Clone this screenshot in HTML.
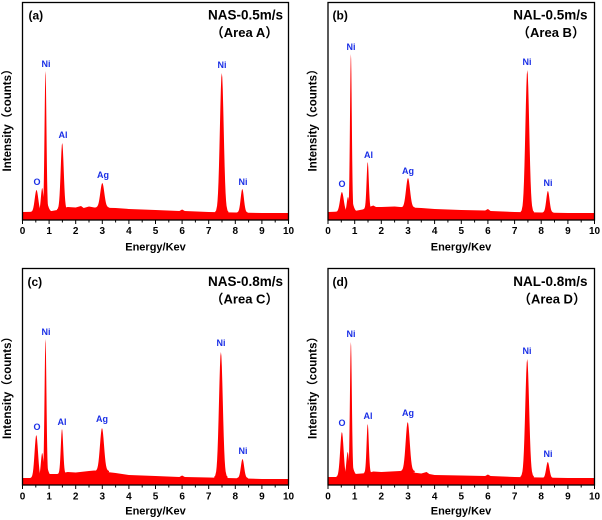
<!DOCTYPE html>
<html><head><meta charset="utf-8"><style>
html,body{margin:0;padding:0;background:#fff;}
svg{display:block;}
text{font-family:"Liberation Sans","Noto Sans CJK SC",sans-serif;font-weight:bold;}
.t{font-size:10px;fill:#000;text-anchor:middle;}
.xl{font-size:11px;fill:#000;text-anchor:middle;}
.yl{font-size:11.5px;fill:#000;text-anchor:middle;}
.el{font-size:9px;fill:#1a2fe6;text-anchor:middle;}
.pl{font-size:12px;fill:#000;}
.ti{font-size:13.5px;fill:#000;text-anchor:end;}
.ar{font-size:13px;fill:#000;text-anchor:middle;}
.r{fill:#ff0000;}
.fr{fill:none;stroke:#000;stroke-width:1.3;}
.tk{stroke:#000;stroke-width:1;fill:none;}
</style></head><body>
<svg width="602" height="520" viewBox="0 0 602 520" xmlns="http://www.w3.org/2000/svg">
<rect width="602" height="520" fill="#fff"/>

<!-- ================= Panel A ================= -->
<path class="r" d="M22.5,220 L22.5,212 L49.1,211.5 L57.1,210 L67.7,207 L75.7,207.5 L81,206 L83.7,208 L89,206.5 L94.3,207.5 L115.6,208 L128.9,209 L155.5,210 L179.4,211 L182.1,209.5 L184.8,211 L208.7,212 L261.9,213 L288.5,213 L288.5,220 Z"/>
<g class="r">
<path transform="translate(36.5,212) scale(1.75,22)" d="M-3.5,0.03L-3.5,-0.002L-3,-0.011L-2.5,-0.044L-2.25,-0.08L-2,-0.135L-1.75,-0.216L-1.5,-0.325L-1.25,-0.458L-1,-0.607L-0.75,-0.755L-0.5,-0.882L-0.25,-0.969L0,-1L0.25,-0.969L0.5,-0.882L0.75,-0.755L1,-0.607L1.25,-0.458L1.5,-0.325L1.75,-0.216L2,-0.135L2.25,-0.08L2.5,-0.044L3,-0.011L3.5,-0.002L3.5,0.03Z"/>
<path transform="translate(42.2,212) scale(1.3,24)" d="M-3.5,0.03L-3.5,-0.002L-3,-0.011L-2.5,-0.044L-2.25,-0.08L-2,-0.135L-1.75,-0.216L-1.5,-0.325L-1.25,-0.458L-1,-0.607L-0.75,-0.755L-0.5,-0.882L-0.25,-0.969L0,-1L0.25,-0.969L0.5,-0.882L0.75,-0.755L1,-0.607L1.25,-0.458L1.5,-0.325L1.75,-0.216L2,-0.135L2.25,-0.08L2.5,-0.044L3,-0.011L3.5,-0.002L3.5,0.03Z"/>
<path transform="translate(45.5,211.5) scale(2.2,12)" d="M-3.5,0.03L-3.5,-0.002L-3,-0.011L-2.5,-0.044L-2.25,-0.08L-2,-0.135L-1.75,-0.216L-1.5,-0.325L-1.25,-0.458L-1,-0.607L-0.75,-0.755L-0.5,-0.882L-0.25,-0.969L0,-1L0.25,-0.969L0.5,-0.882L0.75,-0.755L1,-0.607L1.25,-0.458L1.5,-0.325L1.75,-0.216L2,-0.135L2.25,-0.08L2.5,-0.044L3,-0.011L3.5,-0.002L3.5,0.03Z"/>
<path transform="translate(45.5,211.5) scale(0.95,140.5)" d="M-3.5,0.03L-3.5,-0.002L-3,-0.011L-2.5,-0.044L-2.25,-0.08L-2,-0.135L-1.75,-0.216L-1.5,-0.325L-1.25,-0.458L-1,-0.607L-0.75,-0.755L-0.5,-0.882L-0.25,-0.969L0,-1L0.25,-0.969L0.5,-0.882L0.75,-0.755L1,-0.607L1.25,-0.458L1.5,-0.325L1.75,-0.216L2,-0.135L2.25,-0.08L2.5,-0.044L3,-0.011L3.5,-0.002L3.5,0.03Z"/>
<path transform="translate(62.2,209.5) scale(1.5,66.5)" d="M-3.5,0.03L-3.5,-0.002L-3,-0.011L-2.5,-0.044L-2.25,-0.08L-2,-0.135L-1.75,-0.216L-1.5,-0.325L-1.25,-0.458L-1,-0.607L-0.75,-0.755L-0.5,-0.882L-0.25,-0.969L0,-1L0.25,-0.969L0.5,-0.882L0.75,-0.755L1,-0.607L1.25,-0.458L1.5,-0.325L1.75,-0.216L2,-0.135L2.25,-0.08L2.5,-0.044L3,-0.011L3.5,-0.002L3.5,0.03Z"/>
<path transform="translate(102.3,207.5) scale(2.0,24.5)" d="M-3.5,0.03L-3.5,-0.002L-3,-0.011L-2.5,-0.044L-2.25,-0.08L-2,-0.135L-1.75,-0.216L-1.5,-0.325L-1.25,-0.458L-1,-0.607L-0.75,-0.755L-0.5,-0.882L-0.25,-0.969L0,-1L0.25,-0.969L0.5,-0.882L0.75,-0.755L1,-0.607L1.25,-0.458L1.5,-0.325L1.75,-0.216L2,-0.135L2.25,-0.08L2.5,-0.044L3,-0.011L3.5,-0.002L3.5,0.03Z"/>
<path transform="translate(221.8,212) scale(1.9,139)" d="M-3.5,0.03L-3.5,-0.002L-3,-0.011L-2.5,-0.044L-2.25,-0.08L-2,-0.135L-1.75,-0.216L-1.5,-0.325L-1.25,-0.458L-1,-0.607L-0.75,-0.755L-0.5,-0.882L-0.25,-0.969L0,-1L0.25,-0.969L0.5,-0.882L0.75,-0.755L1,-0.607L1.25,-0.458L1.5,-0.325L1.75,-0.216L2,-0.135L2.25,-0.08L2.5,-0.044L3,-0.011L3.5,-0.002L3.5,0.03Z"/>
<path transform="translate(242.3,212.5) scale(1.6,23.5)" d="M-3.5,0.03L-3.5,-0.002L-3,-0.011L-2.5,-0.044L-2.25,-0.08L-2,-0.135L-1.75,-0.216L-1.5,-0.325L-1.25,-0.458L-1,-0.607L-0.75,-0.755L-0.5,-0.882L-0.25,-0.969L0,-1L0.25,-0.969L0.5,-0.882L0.75,-0.755L1,-0.607L1.25,-0.458L1.5,-0.325L1.75,-0.216L2,-0.135L2.25,-0.08L2.5,-0.044L3,-0.011L3.5,-0.002L3.5,0.03Z"/>
</g>
<rect class="fr" x="22.5" y="2.5" width="266" height="217.5"/>
<path class="tk" d="M22.5,220v4M49.1,220v4M75.7,220v4M102.3,220v4M128.9,220v4M155.5,220v4M182.1,220v4M208.7,220v4M235.3,220v4M261.9,220v4M288.5,220v4M35.8,220v2.5M62.4,220v2.5M89,220v2.5M115.6,220v2.5M142.2,220v2.5M168.8,220v2.5M195.4,220v2.5M222,220v2.5M248.6,220v2.5M275.2,220v2.5"/>
<g class="t">
<text x="22.5" y="234">0</text><text x="49.1" y="234">1</text><text x="75.7" y="234">2</text><text x="102.3" y="234">3</text><text x="128.9" y="234">4</text><text x="155.5" y="234">5</text><text x="182.1" y="234">6</text><text x="208.7" y="234">7</text><text x="235.3" y="234">8</text><text x="261.9" y="234">9</text><text x="288.5" y="234">10</text>
</g>
<text class="xl" x="155.5" y="250.5">Energy/Kev</text>
<text class="yl" transform="translate(11,117.5) rotate(-90)">Intensity（counts）</text>
<text class="pl" x="28.5" y="19.5">(a)</text>
<text class="ti" x="283" y="19.5">NAS-0.5m/s</text>
<text class="ar" x="244.5" y="37">（Area A）</text>
<g class="el">
<text x="37" y="185">O</text><text x="46" y="67">Ni</text><text x="63" y="138">Al</text><text x="103" y="178">Ag</text><text x="222" y="68">Ni</text><text x="243" y="185">Ni</text>
</g>

<!-- ================= Panel B ================= -->
<path class="r" d="M328,220 L328,212 L354.7,211 L362.6,209.5 L373.3,205.5 L376,207 L381.3,207 L394.6,206.5 L400,207 L421.3,208 L434.6,209 L461.3,210 L485.2,210.5 L487.9,209 L490.6,211 L514.6,212 L567.9,213 L594.5,213 L594.5,220 Z"/>
<g class="r">
<path transform="translate(341.9,212) scale(1.85,20)" d="M-3.5,0.03L-3.5,-0.002L-3,-0.011L-2.5,-0.044L-2.25,-0.08L-2,-0.135L-1.75,-0.216L-1.5,-0.325L-1.25,-0.458L-1,-0.607L-0.75,-0.755L-0.5,-0.882L-0.25,-0.969L0,-1L0.25,-0.969L0.5,-0.882L0.75,-0.755L1,-0.607L1.25,-0.458L1.5,-0.325L1.75,-0.216L2,-0.135L2.25,-0.08L2.5,-0.044L3,-0.011L3.5,-0.002L3.5,0.03Z"/>
<path transform="translate(348,212) scale(1.2,15)" d="M-3.5,0.03L-3.5,-0.002L-3,-0.011L-2.5,-0.044L-2.25,-0.08L-2,-0.135L-1.75,-0.216L-1.5,-0.325L-1.25,-0.458L-1,-0.607L-0.75,-0.755L-0.5,-0.882L-0.25,-0.969L0,-1L0.25,-0.969L0.5,-0.882L0.75,-0.755L1,-0.607L1.25,-0.458L1.5,-0.325L1.75,-0.216L2,-0.135L2.25,-0.08L2.5,-0.044L3,-0.011L3.5,-0.002L3.5,0.03Z"/>
<path transform="translate(350.9,211.5) scale(2.2,12)" d="M-3.5,0.03L-3.5,-0.002L-3,-0.011L-2.5,-0.044L-2.25,-0.08L-2,-0.135L-1.75,-0.216L-1.5,-0.325L-1.25,-0.458L-1,-0.607L-0.75,-0.755L-0.5,-0.882L-0.25,-0.969L0,-1L0.25,-0.969L0.5,-0.882L0.75,-0.755L1,-0.607L1.25,-0.458L1.5,-0.325L1.75,-0.216L2,-0.135L2.25,-0.08L2.5,-0.044L3,-0.011L3.5,-0.002L3.5,0.03Z"/>
<path transform="translate(350.9,211.5) scale(0.9,157.5)" d="M-3.5,0.03L-3.5,-0.002L-3,-0.011L-2.5,-0.044L-2.25,-0.08L-2,-0.135L-1.75,-0.216L-1.5,-0.325L-1.25,-0.458L-1,-0.607L-0.75,-0.755L-0.5,-0.882L-0.25,-0.969L0,-1L0.25,-0.969L0.5,-0.882L0.75,-0.755L1,-0.607L1.25,-0.458L1.5,-0.325L1.75,-0.216L2,-0.135L2.25,-0.08L2.5,-0.044L3,-0.011L3.5,-0.002L3.5,0.03Z"/>
<path transform="translate(367.7,209) scale(1.1,47)" d="M-3.5,0.03L-3.5,-0.002L-3,-0.011L-2.5,-0.044L-2.25,-0.08L-2,-0.135L-1.75,-0.216L-1.5,-0.325L-1.25,-0.458L-1,-0.607L-0.75,-0.755L-0.5,-0.882L-0.25,-0.969L0,-1L0.25,-0.969L0.5,-0.882L0.75,-0.755L1,-0.607L1.25,-0.458L1.5,-0.325L1.75,-0.216L2,-0.135L2.25,-0.08L2.5,-0.044L3,-0.011L3.5,-0.002L3.5,0.03Z"/>
<path transform="translate(408,207.5) scale(2.0,29.5)" d="M-3.5,0.03L-3.5,-0.002L-3,-0.011L-2.5,-0.044L-2.25,-0.08L-2,-0.135L-1.75,-0.216L-1.5,-0.325L-1.25,-0.458L-1,-0.607L-0.75,-0.755L-0.5,-0.882L-0.25,-0.969L0,-1L0.25,-0.969L0.5,-0.882L0.75,-0.755L1,-0.607L1.25,-0.458L1.5,-0.325L1.75,-0.216L2,-0.135L2.25,-0.08L2.5,-0.044L3,-0.011L3.5,-0.002L3.5,0.03Z"/>
<path transform="translate(527.3,212) scale(1.9,142)" d="M-3.5,0.03L-3.5,-0.002L-3,-0.011L-2.5,-0.044L-2.25,-0.08L-2,-0.135L-1.75,-0.216L-1.5,-0.325L-1.25,-0.458L-1,-0.607L-0.75,-0.755L-0.5,-0.882L-0.25,-0.969L0,-1L0.25,-0.969L0.5,-0.882L0.75,-0.755L1,-0.607L1.25,-0.458L1.5,-0.325L1.75,-0.216L2,-0.135L2.25,-0.08L2.5,-0.044L3,-0.011L3.5,-0.002L3.5,0.03Z"/>
<path transform="translate(547.9,212.5) scale(1.6,21.5)" d="M-3.5,0.03L-3.5,-0.002L-3,-0.011L-2.5,-0.044L-2.25,-0.08L-2,-0.135L-1.75,-0.216L-1.5,-0.325L-1.25,-0.458L-1,-0.607L-0.75,-0.755L-0.5,-0.882L-0.25,-0.969L0,-1L0.25,-0.969L0.5,-0.882L0.75,-0.755L1,-0.607L1.25,-0.458L1.5,-0.325L1.75,-0.216L2,-0.135L2.25,-0.08L2.5,-0.044L3,-0.011L3.5,-0.002L3.5,0.03Z"/>
</g>
<rect class="fr" x="328" y="2.5" width="266.5" height="217.5"/>
<path class="tk" d="M328,220v4M354.7,220v4M381.3,220v4M408,220v4M434.6,220v4M461.3,220v4M487.9,220v4M514.6,220v4M541.2,220v4M567.9,220v4M594.5,220v4M341.3,220v2.5M368,220v2.5M394.6,220v2.5M421.3,220v2.5M447.9,220v2.5M474.6,220v2.5M501.2,220v2.5M527.9,220v2.5M554.5,220v2.5M581.2,220v2.5"/>
<g class="t">
<text x="328" y="234">0</text><text x="354.7" y="234">1</text><text x="381.3" y="234">2</text><text x="408" y="234">3</text><text x="434.6" y="234">4</text><text x="461.3" y="234">5</text><text x="487.9" y="234">6</text><text x="514.6" y="234">7</text><text x="541.2" y="234">8</text><text x="567.9" y="234">9</text><text x="594.5" y="234">10</text>
</g>
<text class="xl" x="461" y="250.5">Energy/Kev</text>
<text class="yl" transform="translate(316.5,117.5) rotate(-90)">Intensity（counts）</text>
<text class="pl" x="332.5" y="19.5">(b)</text>
<text class="ti" x="587.5" y="19.5">NAL-0.5m/s</text>
<text class="ar" x="551" y="37">（Area B）</text>
<g class="el">
<text x="342" y="187">O</text><text x="351" y="50">Ni</text><text x="368.5" y="158">Al</text><text x="408" y="174">Ag</text><text x="527" y="65">Ni</text><text x="548" y="186">Ni</text>
</g>

<!-- ================= Panel C ================= -->
<path class="r" d="M22.5,485 L22.5,478 L33.1,478 L49.1,474 L57.1,474 L67.7,472 L75.7,472.5 L89,471 L94.3,470.5 L115.6,473 L128.9,475 L155.5,476 L179.4,477 L182.1,475.5 L184.8,477 L208.7,477.5 L261.9,479 L288.5,479 L288.5,485 Z"/>
<g class="r">
<path transform="translate(36.3,478) scale(1.7,43)" d="M-3.5,0.03L-3.5,-0.002L-3,-0.011L-2.5,-0.044L-2.25,-0.08L-2,-0.135L-1.75,-0.216L-1.5,-0.325L-1.25,-0.458L-1,-0.607L-0.75,-0.755L-0.5,-0.882L-0.25,-0.969L0,-1L0.25,-0.969L0.5,-0.882L0.75,-0.755L1,-0.607L1.25,-0.458L1.5,-0.325L1.75,-0.216L2,-0.135L2.25,-0.08L2.5,-0.044L3,-0.011L3.5,-0.002L3.5,0.03Z"/>
<path transform="translate(42.2,477) scale(1.3,24)" d="M-3.5,0.03L-3.5,-0.002L-3,-0.011L-2.5,-0.044L-2.25,-0.08L-2,-0.135L-1.75,-0.216L-1.5,-0.325L-1.25,-0.458L-1,-0.607L-0.75,-0.755L-0.5,-0.882L-0.25,-0.969L0,-1L0.25,-0.969L0.5,-0.882L0.75,-0.755L1,-0.607L1.25,-0.458L1.5,-0.325L1.75,-0.216L2,-0.135L2.25,-0.08L2.5,-0.044L3,-0.011L3.5,-0.002L3.5,0.03Z"/>
<path transform="translate(45.5,476) scale(2.2,12)" d="M-3.5,0.03L-3.5,-0.002L-3,-0.011L-2.5,-0.044L-2.25,-0.08L-2,-0.135L-1.75,-0.216L-1.5,-0.325L-1.25,-0.458L-1,-0.607L-0.75,-0.755L-0.5,-0.882L-0.25,-0.969L0,-1L0.25,-0.969L0.5,-0.882L0.75,-0.755L1,-0.607L1.25,-0.458L1.5,-0.325L1.75,-0.216L2,-0.135L2.25,-0.08L2.5,-0.044L3,-0.011L3.5,-0.002L3.5,0.03Z"/>
<path transform="translate(45.5,476) scale(0.95,137)" d="M-3.5,0.03L-3.5,-0.002L-3,-0.011L-2.5,-0.044L-2.25,-0.08L-2,-0.135L-1.75,-0.216L-1.5,-0.325L-1.25,-0.458L-1,-0.607L-0.75,-0.755L-0.5,-0.882L-0.25,-0.969L0,-1L0.25,-0.969L0.5,-0.882L0.75,-0.755L1,-0.607L1.25,-0.458L1.5,-0.325L1.75,-0.216L2,-0.135L2.25,-0.08L2.5,-0.044L3,-0.011L3.5,-0.002L3.5,0.03Z"/>
<path transform="translate(62,474) scale(1.2,45)" d="M-3.5,0.03L-3.5,-0.002L-3,-0.011L-2.5,-0.044L-2.25,-0.08L-2,-0.135L-1.75,-0.216L-1.5,-0.325L-1.25,-0.458L-1,-0.607L-0.75,-0.755L-0.5,-0.882L-0.25,-0.969L0,-1L0.25,-0.969L0.5,-0.882L0.75,-0.755L1,-0.607L1.25,-0.458L1.5,-0.325L1.75,-0.216L2,-0.135L2.25,-0.08L2.5,-0.044L3,-0.011L3.5,-0.002L3.5,0.03Z"/>
<path transform="translate(102,471) scale(2.0,43)" d="M-3.5,0.03L-3.5,-0.002L-3,-0.011L-2.5,-0.044L-2.25,-0.08L-2,-0.135L-1.75,-0.216L-1.5,-0.325L-1.25,-0.458L-1,-0.607L-0.75,-0.755L-0.5,-0.882L-0.25,-0.969L0,-1L0.25,-0.969L0.5,-0.882L0.75,-0.755L1,-0.607L1.25,-0.458L1.5,-0.325L1.75,-0.216L2,-0.135L2.25,-0.08L2.5,-0.044L3,-0.011L3.5,-0.002L3.5,0.03Z"/>
<path transform="translate(220.9,477) scale(1.9,125)" d="M-3.5,0.03L-3.5,-0.002L-3,-0.011L-2.5,-0.044L-2.25,-0.08L-2,-0.135L-1.75,-0.216L-1.5,-0.325L-1.25,-0.458L-1,-0.607L-0.75,-0.755L-0.5,-0.882L-0.25,-0.969L0,-1L0.25,-0.969L0.5,-0.882L0.75,-0.755L1,-0.607L1.25,-0.458L1.5,-0.325L1.75,-0.216L2,-0.135L2.25,-0.08L2.5,-0.044L3,-0.011L3.5,-0.002L3.5,0.03Z"/>
<path transform="translate(242.5,478) scale(1.6,19)" d="M-3.5,0.03L-3.5,-0.002L-3,-0.011L-2.5,-0.044L-2.25,-0.08L-2,-0.135L-1.75,-0.216L-1.5,-0.325L-1.25,-0.458L-1,-0.607L-0.75,-0.755L-0.5,-0.882L-0.25,-0.969L0,-1L0.25,-0.969L0.5,-0.882L0.75,-0.755L1,-0.607L1.25,-0.458L1.5,-0.325L1.75,-0.216L2,-0.135L2.25,-0.08L2.5,-0.044L3,-0.011L3.5,-0.002L3.5,0.03Z"/>
</g>
<rect class="fr" x="22.5" y="268.5" width="266" height="216.5"/>
<path class="tk" d="M22.5,485v4M49.1,485v4M75.7,485v4M102.3,485v4M128.9,485v4M155.5,485v4M182.1,485v4M208.7,485v4M235.3,485v4M261.9,485v4M288.5,485v4M35.8,485v2.5M62.4,485v2.5M89,485v2.5M115.6,485v2.5M142.2,485v2.5M168.8,485v2.5M195.4,485v2.5M222,485v2.5M248.6,485v2.5M275.2,485v2.5"/>
<g class="t">
<text x="22.5" y="499.5">0</text><text x="49.1" y="499.5">1</text><text x="75.7" y="499.5">2</text><text x="102.3" y="499.5">3</text><text x="128.9" y="499.5">4</text><text x="155.5" y="499.5">5</text><text x="182.1" y="499.5">6</text><text x="208.7" y="499.5">7</text><text x="235.3" y="499.5">8</text><text x="261.9" y="499.5">9</text><text x="288.5" y="499.5">10</text>
</g>
<text class="xl" x="155.5" y="514.5">Energy/Kev</text>
<text class="yl" transform="translate(11,385) rotate(-90)">Intensity（counts）</text>
<text class="pl" x="27.5" y="286">(c)</text>
<text class="ti" x="283" y="286">NAS-0.8m/s</text>
<text class="ar" x="244.5" y="303.5">（Area C）</text>
<g class="el">
<text x="37" y="430">O</text><text x="46" y="335">Ni</text><text x="62" y="425">Al</text><text x="102" y="422">Ag</text><text x="221" y="346">Ni</text><text x="243" y="454">Ni</text>
</g>

<!-- ================= Panel D ================= -->
<path class="r" d="M328,485 L328,477 L338.7,477 L354.7,474 L368,473 L373.3,471.5 L381.3,472 L400,471 L421.3,473.5 L426.6,472 L429.3,474 L434.6,475 L461.3,475.5 L485.2,476 L487.9,474.5 L490.6,476 L514.6,477 L567.9,478 L594.5,478 L594.5,485 Z"/>
<g class="r">
<path transform="translate(341.9,477) scale(1.7,45)" d="M-3.5,0.03L-3.5,-0.002L-3,-0.011L-2.5,-0.044L-2.25,-0.08L-2,-0.135L-1.75,-0.216L-1.5,-0.325L-1.25,-0.458L-1,-0.607L-0.75,-0.755L-0.5,-0.882L-0.25,-0.969L0,-1L0.25,-0.969L0.5,-0.882L0.75,-0.755L1,-0.607L1.25,-0.458L1.5,-0.325L1.75,-0.216L2,-0.135L2.25,-0.08L2.5,-0.044L3,-0.011L3.5,-0.002L3.5,0.03Z"/>
<path transform="translate(347.7,476) scale(1.3,24)" d="M-3.5,0.03L-3.5,-0.002L-3,-0.011L-2.5,-0.044L-2.25,-0.08L-2,-0.135L-1.75,-0.216L-1.5,-0.325L-1.25,-0.458L-1,-0.607L-0.75,-0.755L-0.5,-0.882L-0.25,-0.969L0,-1L0.25,-0.969L0.5,-0.882L0.75,-0.755L1,-0.607L1.25,-0.458L1.5,-0.325L1.75,-0.216L2,-0.135L2.25,-0.08L2.5,-0.044L3,-0.011L3.5,-0.002L3.5,0.03Z"/>
<path transform="translate(350.9,475) scale(2.2,12)" d="M-3.5,0.03L-3.5,-0.002L-3,-0.011L-2.5,-0.044L-2.25,-0.08L-2,-0.135L-1.75,-0.216L-1.5,-0.325L-1.25,-0.458L-1,-0.607L-0.75,-0.755L-0.5,-0.882L-0.25,-0.969L0,-1L0.25,-0.969L0.5,-0.882L0.75,-0.755L1,-0.607L1.25,-0.458L1.5,-0.325L1.75,-0.216L2,-0.135L2.25,-0.08L2.5,-0.044L3,-0.011L3.5,-0.002L3.5,0.03Z"/>
<path transform="translate(350.9,475) scale(0.95,133)" d="M-3.5,0.03L-3.5,-0.002L-3,-0.011L-2.5,-0.044L-2.25,-0.08L-2,-0.135L-1.75,-0.216L-1.5,-0.325L-1.25,-0.458L-1,-0.607L-0.75,-0.755L-0.5,-0.882L-0.25,-0.969L0,-1L0.25,-0.969L0.5,-0.882L0.75,-0.755L1,-0.607L1.25,-0.458L1.5,-0.325L1.75,-0.216L2,-0.135L2.25,-0.08L2.5,-0.044L3,-0.011L3.5,-0.002L3.5,0.03Z"/>
<path transform="translate(367.7,473) scale(1.1,49)" d="M-3.5,0.03L-3.5,-0.002L-3,-0.011L-2.5,-0.044L-2.25,-0.08L-2,-0.135L-1.75,-0.216L-1.5,-0.325L-1.25,-0.458L-1,-0.607L-0.75,-0.755L-0.5,-0.882L-0.25,-0.969L0,-1L0.25,-0.969L0.5,-0.882L0.75,-0.755L1,-0.607L1.25,-0.458L1.5,-0.325L1.75,-0.216L2,-0.135L2.25,-0.08L2.5,-0.044L3,-0.011L3.5,-0.002L3.5,0.03Z"/>
<path transform="translate(407.7,471) scale(2.0,49)" d="M-3.5,0.03L-3.5,-0.002L-3,-0.011L-2.5,-0.044L-2.25,-0.08L-2,-0.135L-1.75,-0.216L-1.5,-0.325L-1.25,-0.458L-1,-0.607L-0.75,-0.755L-0.5,-0.882L-0.25,-0.969L0,-1L0.25,-0.969L0.5,-0.882L0.75,-0.755L1,-0.607L1.25,-0.458L1.5,-0.325L1.75,-0.216L2,-0.135L2.25,-0.08L2.5,-0.044L3,-0.011L3.5,-0.002L3.5,0.03Z"/>
<path transform="translate(527.2,476.5) scale(1.9,117.5)" d="M-3.5,0.03L-3.5,-0.002L-3,-0.011L-2.5,-0.044L-2.25,-0.08L-2,-0.135L-1.75,-0.216L-1.5,-0.325L-1.25,-0.458L-1,-0.607L-0.75,-0.755L-0.5,-0.882L-0.25,-0.969L0,-1L0.25,-0.969L0.5,-0.882L0.75,-0.755L1,-0.607L1.25,-0.458L1.5,-0.325L1.75,-0.216L2,-0.135L2.25,-0.08L2.5,-0.044L3,-0.011L3.5,-0.002L3.5,0.03Z"/>
<path transform="translate(547.8,478) scale(1.6,16)" d="M-3.5,0.03L-3.5,-0.002L-3,-0.011L-2.5,-0.044L-2.25,-0.08L-2,-0.135L-1.75,-0.216L-1.5,-0.325L-1.25,-0.458L-1,-0.607L-0.75,-0.755L-0.5,-0.882L-0.25,-0.969L0,-1L0.25,-0.969L0.5,-0.882L0.75,-0.755L1,-0.607L1.25,-0.458L1.5,-0.325L1.75,-0.216L2,-0.135L2.25,-0.08L2.5,-0.044L3,-0.011L3.5,-0.002L3.5,0.03Z"/>
</g>
<rect class="fr" x="328" y="268.5" width="266.5" height="216.5"/>
<path class="tk" d="M328,485v4M354.7,485v4M381.3,485v4M408,485v4M434.6,485v4M461.3,485v4M487.9,485v4M514.6,485v4M541.2,485v4M567.9,485v4M594.5,485v4M341.3,485v2.5M368,485v2.5M394.6,485v2.5M421.3,485v2.5M447.9,485v2.5M474.6,485v2.5M501.2,485v2.5M527.9,485v2.5M554.5,485v2.5M581.2,485v2.5"/>
<g class="t">
<text x="328" y="499.5">0</text><text x="354.7" y="499.5">1</text><text x="381.3" y="499.5">2</text><text x="408" y="499.5">3</text><text x="434.6" y="499.5">4</text><text x="461.3" y="499.5">5</text><text x="487.9" y="499.5">6</text><text x="514.6" y="499.5">7</text><text x="541.2" y="499.5">8</text><text x="567.9" y="499.5">9</text><text x="594.5" y="499.5">10</text>
</g>
<text class="xl" x="461" y="514.5">Energy/Kev</text>
<text class="yl" transform="translate(316.5,385) rotate(-90)">Intensity（counts）</text>
<text class="pl" x="332.5" y="286">(d)</text>
<text class="ti" x="587.5" y="286">NAL-0.8m/s</text>
<text class="ar" x="552" y="303.5">（Area D）</text>
<g class="el">
<text x="342" y="426">O</text><text x="351" y="337">Ni</text><text x="368" y="419">Al</text><text x="408" y="416">Ag</text><text x="527" y="354">Ni</text><text x="548" y="457">Ni</text>
</g>
</svg>
</body></html>
